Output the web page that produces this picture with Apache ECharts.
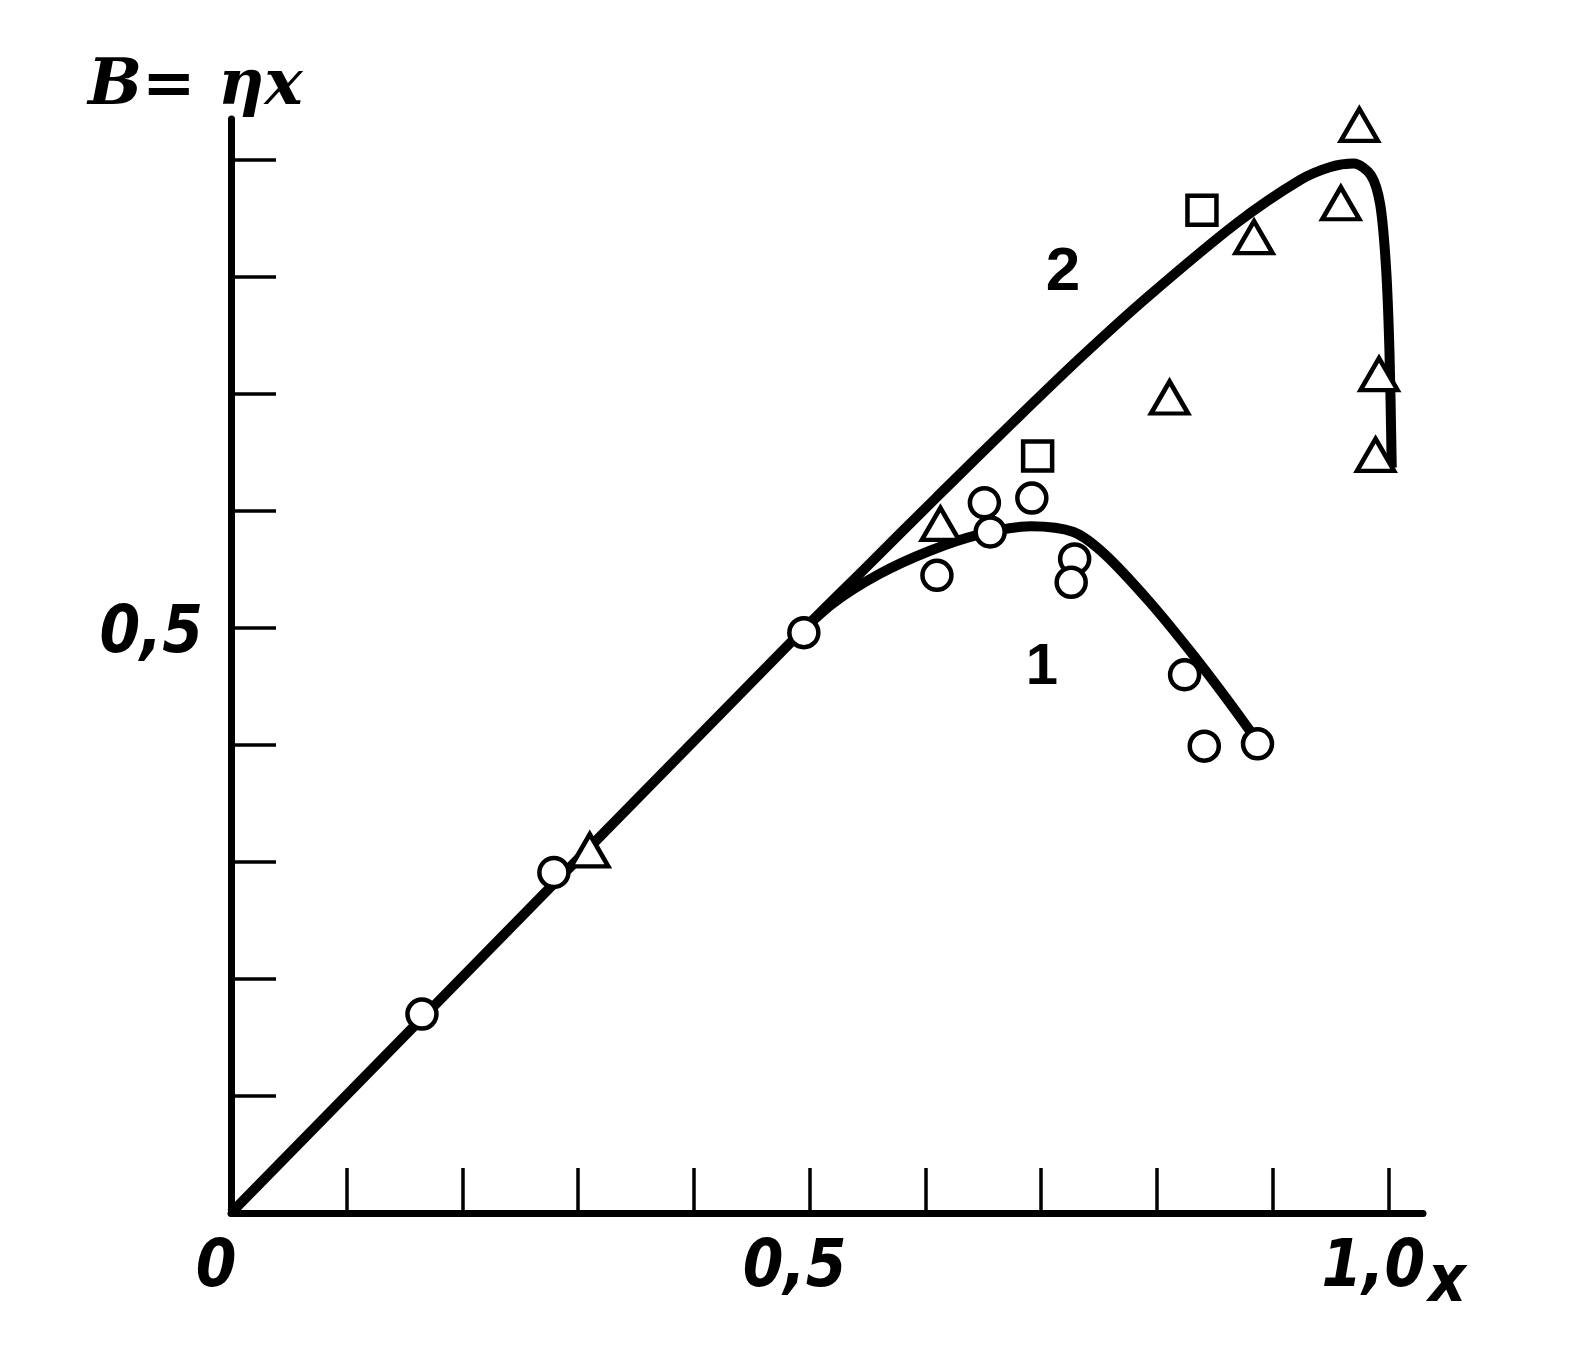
<!DOCTYPE html>
<html>
<head>
<meta charset="utf-8">
<script src="https://cdn.jsdelivr.net/npm/echarts@6/dist/echarts.min.js"></script>
<style>html,body{margin:0;padding:0;background:#fff;}#c{width:1595px;height:1353px;}</style>
</head>
<body>
<div id="c"></div>
<script>
// Curve 2 (upper)
const curve2X = [0, 0.491, 0.550, 0.610, 0.676, 0.734, 0.791, 0.869, 0.924, 0.950, 0.970, 0.985, 0.993, 0.998, 1.001, 1.003];
const curve2Y = [0, 0.495, 0.553, 0.612, 0.676, 0.731, 0.782, 0.846, 0.883, 0.894, 0.897, 0.887, 0.862, 0.809, 0.737, 0.637];
// Curve 1 (lower)
const curve1X = [0.491, 0.520, 0.560, 0.604, 0.647, 0.691, 0.728, 0.755, 0.794, 0.829, 0.860, 0.885];
const curve1Y = [0.495, 0.521, 0.546, 0.566, 0.580, 0.587, 0.582, 0.563, 0.522, 0.480, 0.440, 0.406];
// Circles
const circlesX = [0.165, 0.279, 0.495, 0.610, 0.651, 0.656, 0.692, 0.729, 0.726, 0.824, 0.841, 0.887];
const circlesY = [0.170, 0.291, 0.496, 0.545, 0.607, 0.582, 0.611, 0.559, 0.539, 0.460, 0.399, 0.401];
// Triangles
const trianglesX = [0.310, 0.613, 0.811, 0.884, 0.959, 0.975, 0.992, 0.989];
const trianglesY = [0.310, 0.589, 0.697, 0.834, 0.863, 0.930, 0.717, 0.648];
// Squares
const squaresX = [0.697, 0.839];
const squaresY = [0.647, 0.857];
// Ticks and tick labels
const xTicks = [0.1, 0.2, 0.3, 0.4, 0.5, 0.6, 0.7, 0.8, 0.9, 1.0];
const yTicks = [0.1, 0.2, 0.3, 0.4, 0.5, 0.6, 0.7, 0.8, 0.9];
const xLabelValues = [0, 0.5, 1.0];
const xLabelTexts = ['0', '0,5', '1,0'];
const yLabelValues = [0.5];
const yLabelTexts = ['0,5'];

function pairs(xs, ys) { return xs.map((x, i) => [x, ys[i]]); }
function lookup(vals, texts, v) {
  for (let i = 0; i < vals.length; i++) { if (Math.abs(vals[i] - v) < 1e-6) return texts[i]; }
  return '';
}

const chart = echarts.init(document.getElementById('c'), null, {renderer: 'canvas'});
const labelFont = {
  fontFamily: '"Liberation Sans Narrow", "DejaVu Sans Condensed", "Liberation Sans", sans-serif',
  fontStyle: 'italic', fontWeight: 'bold', fontSize: 65, color: '#000'
};
const marker = {color: '#fff', borderColor: '#000', borderWidth: 4.5, opacity: 1};
chart.setOption({
  animation: false,
  backgroundColor: '#fff',
  grid: {left: 231, top: 119, width: 1192, height: 1094},
  xAxis: {
    type: 'value', min: 0, max: 1.03, interval: 0.1,
    axisLine: {lineStyle: {color: '#000', width: 7}},
    axisTick: {inside: true, length: 45, customValues: xTicks, lineStyle: {color: '#000', width: 3.5}},
    splitLine: {show: false},
    axisLabel: Object.assign({}, labelFont, {
      margin: 24,
      customValues: xLabelValues,
      formatter: v => '{s|' + lookup(xLabelValues, xLabelTexts, v) + '}',
      rich: {s: Object.assign({}, labelFont, {padding: [0, 30, 0, 0]})}
    })
  },
  yAxis: {
    type: 'value', min: 0, max: 0.935, interval: 0.1,
    axisLine: {lineStyle: {color: '#000', width: 7}},
    axisTick: {inside: true, length: 45, customValues: yTicks, lineStyle: {color: '#000', width: 3.5}},
    splitLine: {show: false},
    axisLabel: Object.assign({}, labelFont, {
      margin: 28,
      customValues: yLabelValues,
      formatter: v => '{s|' + lookup(yLabelValues, yLabelTexts, v) + '}',
      rich: {s: Object.assign({}, labelFont, {padding: [14, 0, 0, 0]})}
    })
  },
  graphic: [
    {type: 'text', left: 88, top: 55, style: {text: 'B= ηx', fill: '#000',
      font: 'italic bold 64px "DejaVu Serif", serif'}},
    {type: 'text', x: 1063, y: 273, style: {text: '2', fill: '#000', align: 'center', verticalAlign: 'middle',
      font: 'bold 62px "Liberation Sans", sans-serif'}},
    {type: 'text', x: 1042, y: 668, style: {text: '1', fill: '#000', align: 'center', verticalAlign: 'middle',
      font: 'bold 58px "Liberation Sans", sans-serif'}},
    {type: 'text', x: 1447, y: 1284, style: {text: 'x', fill: '#000', align: 'center', verticalAlign: 'middle',
      font: 'italic bold 65px "Liberation Sans Narrow", "DejaVu Sans Condensed", sans-serif'}}
  ],
  series: [
    {type: 'line', data: pairs(curve2X, curve2Y), smooth: 0.3, symbol: 'none',
      lineStyle: {color: '#000', width: 10}, z: 2},
    {type: 'line', data: pairs(curve1X, curve1Y), smooth: 0.3, symbol: 'none',
      lineStyle: {color: '#000', width: 10}, z: 2},
    {type: 'scatter', data: pairs(circlesX, circlesY), symbol: 'circle', symbolSize: 29,
      itemStyle: marker, z: 5},
    {type: 'scatter', data: pairs(trianglesX, trianglesY), symbol: 'triangle', symbolSize: [37, 32],
      itemStyle: marker, z: 5},
    {type: 'scatter', data: pairs(squaresX, squaresY), symbol: 'rect', symbolSize: 29,
      itemStyle: marker, z: 5}
  ]
});
</script>
</body>
</html>
